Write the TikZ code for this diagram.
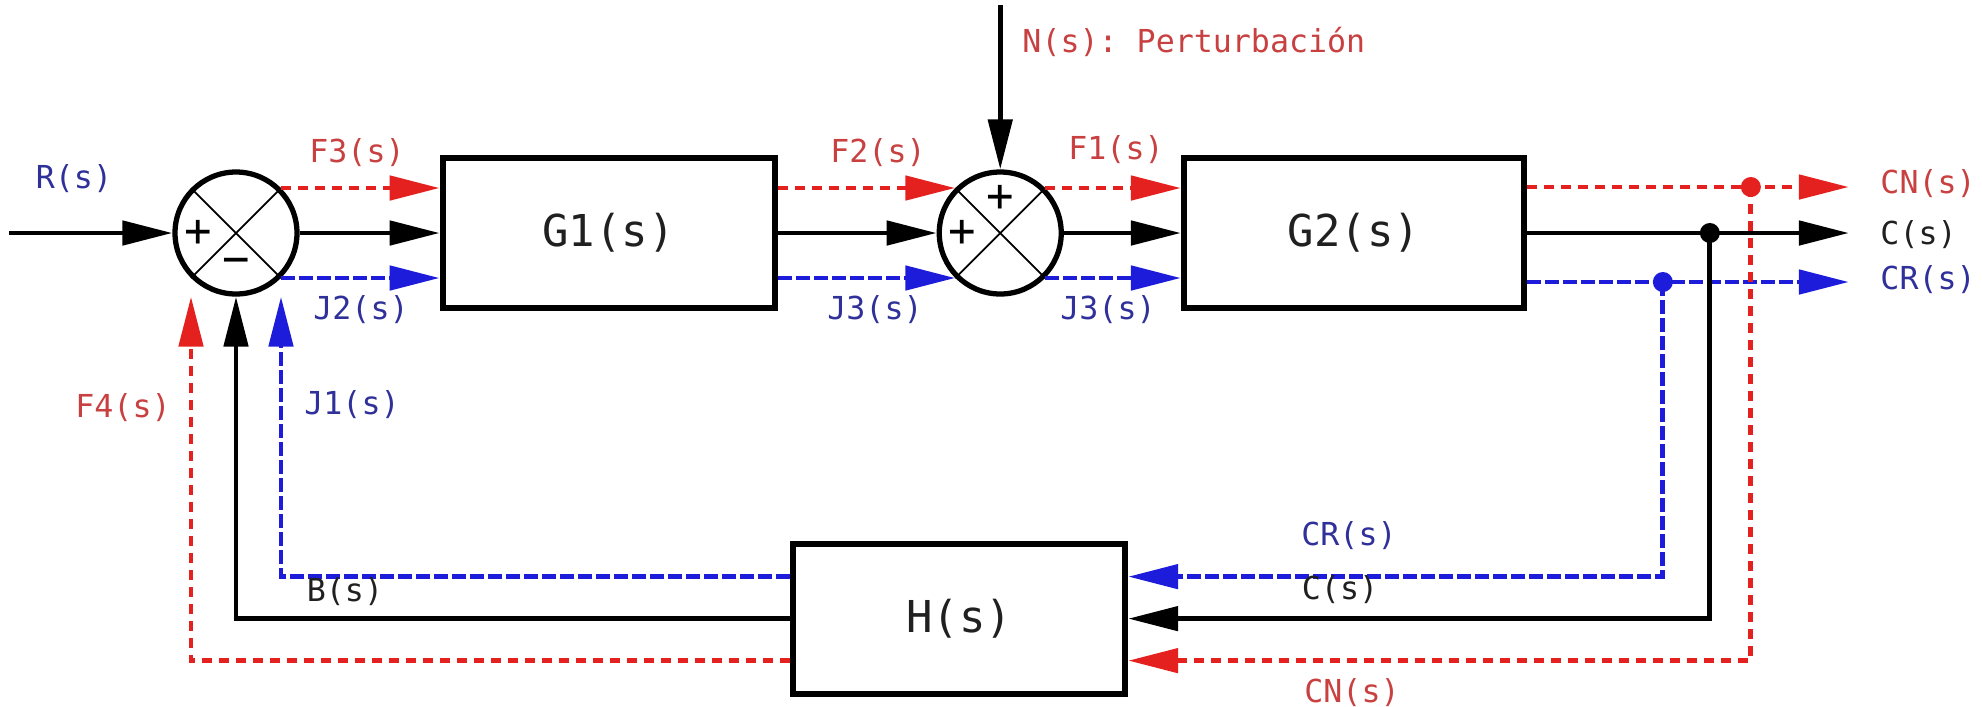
\documentclass[tikz,border=0pt]{standalone}
\usepackage{fontspec}
\setmonofont{DejaVu Sans Mono}
\usepackage{xcolor}
\usepackage{tikz}
\usetikzlibrary{positioning, calc, arrows.meta}
\definecolor{sigred}{HTML}{E4211E}
\definecolor{sigblue}{HTML}{1C1CDA}
\definecolor{txtred}{HTML}{C84040}
\definecolor{txtblue}{HTML}{30309A}
\definecolor{txtblack}{HTML}{202020}

\begin{document}
\begin{tikzpicture}[node distance=1.4cm, >={Triangle[length=5mm, width=2.4mm]}, line width=1.4pt,
    block/.style={draw, rectangle, line width=1.7pt, minimum width=3.32cm, minimum height=1.50cm, inner sep=0pt, font=\ttfamily\fontsize{12.5}{12.5}\selectfont, text=txtblack},
    sumnode/.style={draw, circle, line width=1.5pt, minimum size=1.22cm, inner sep=0pt},
    redsig/.style={sigred, dash pattern=on 1mm off 0.7mm},
    bluesig/.style={sigblue, dash pattern=on 1.4mm off 0.4mm},
    lbl/.style={font=\ttfamily\fontsize{9}{9}\selectfont, inner sep=0pt},
    redlbl/.style={lbl, text=txtred},
    bluelbl/.style={lbl, text=txtblue},
    blacklbl/.style={lbl, text=txtblack},
    sgn/.style={font=\ttfamily\fontsize{13}{13}\selectfont, inner sep=0pt}]
\useasboundingbox (0,0) rectangle (19.82,-7.06);

\node[sumnode] (sum1) at (2.36,-2.33) {};
\node[block, right=1.40cm of sum1] (G1) {G1(s)};
\node[sumnode, right=1.59cm of G1] (sum2) {};
\node[block, right=1.17cm of sum2, minimum width=3.40cm] (G2) {G2(s)};
\node[block, below=2.44cm of sum2, xshift=-4.1mm] (H) {H(s)};

\draw[line width=0.5pt] (sum1.45) -- (sum1.225) (sum1.135) -- (sum1.-45);
\draw[line width=0.5pt] (sum2.45) -- (sum2.225) (sum2.135) -- (sum2.-45);
\node[sgn] at ([xshift=-3.8mm]sum1.center) {+};
\node[sgn] at ([yshift=-3.3mm]sum1.center) {−};
\node[sgn] at ([yshift=3.5mm]sum2.center) {+};
\node[sgn] at ([xshift=-3.8mm]sum2.center) {+};

\coordinate[left=1.63cm of sum1.west] (rin);
\coordinate[above=1.64cm of sum2.north] (nin);
\coordinate (g2red) at ([yshift=4.6mm]G2.east);
\coordinate (g2blue) at ([yshift=-4.9mm]G2.east);
\coordinate[right=3.22cm of G2.east] (cout);
\coordinate (cnout) at (g2red -| cout);
\coordinate (crout) at (g2blue -| cout);
\coordinate (tapB) at ([xshift=1.36cm]g2blue);
\coordinate (tapC) at ([xshift=1.83cm]G2.east);
\coordinate (tapN) at ([xshift=2.24cm]g2red);

\draw[->] (rin) -- (sum1.west);
\draw[->] (nin) -- (sum2.north);
\draw[->] (sum1.east) -- (G1.west);
\draw[->, redsig] (sum1.45) -- (sum1.45 -| G1.west);
\draw[->, bluesig] (sum1.-45) -- (sum1.-45 -| G1.west);
\draw[->] (G1.east) -- (sum2.west);
\draw[->, redsig] (G1.east |- sum2.135) -- (sum2.135);
\draw[->, bluesig] (G1.east |- sum2.-135) -- (sum2.-135);
\draw[->] (sum2.east) -- (G2.west);
\draw[->, redsig] (sum2.45) -- (sum2.45 -| G2.west);
\draw[->, bluesig] (sum2.-45) -- (sum2.-45 -| G2.west);

\draw[->] (G2.east) -- (cout);
\draw[->, bluesig] (g2blue) -- (crout);
\draw[->] (tapC) |- (H.east);
\draw[->, bluesig] (tapB) |- ([yshift=4.2mm]H.east);
\draw[->] (H.west) -| (sum1.south);
\draw[->, bluesig] ([yshift=4.2mm]H.west) -| (sum1.-45 |- sum1.south);
\draw[->, redsig] ([yshift=-4.2mm]H.west) -| (sum1.-135 |- sum1.south);
\draw[->, redsig] (g2red) -- (cnout);
\draw[->, redsig] (tapN) |- ([yshift=-4.2mm]H.east);
\fill (tapC) circle (1mm);
\fill[sigblue] (tapB) circle (1mm);
\fill[sigred] (tapN) circle (1mm);

\node[bluelbl] at (0.74,-1.79) {R(s)};
\node[redlbl] at (3.57,-1.53) {F3(s)};
\node[bluelbl] at (3.61,-3.10) {J2(s)};
\node[redlbl] at (8.78,-1.53) {F2(s)};
\node[bluelbl] at (8.75,-3.10) {J3(s)};
\node[redlbl] at (11.16,-1.50) {F1(s)};
\node[bluelbl] at (11.08,-3.10) {J3(s)};
\node[redlbl, anchor=west] at (10.20,-0.42) {N(s): Perturbación};
\node[redlbl, anchor=west] at (18.78,-1.84) {CN(s)};
\node[blacklbl, anchor=west] at (18.78,-2.35) {C(s)};
\node[bluelbl, anchor=west] at (18.78,-2.80) {CR(s)};
\node[redlbl] at (1.23,-4.08) {F4(s)};
\node[bluelbl] at (3.52,-4.05) {J1(s)};
\node[blacklbl] at (3.45,-5.92) {B(s)};
\node[bluelbl] at (13.49,-5.36) {CR(s)};
\node[blacklbl] at (13.40,-5.90) {C(s)};
\node[redlbl] at (13.52,-6.93) {CN(s)};

\end{tikzpicture}
\end{document}
